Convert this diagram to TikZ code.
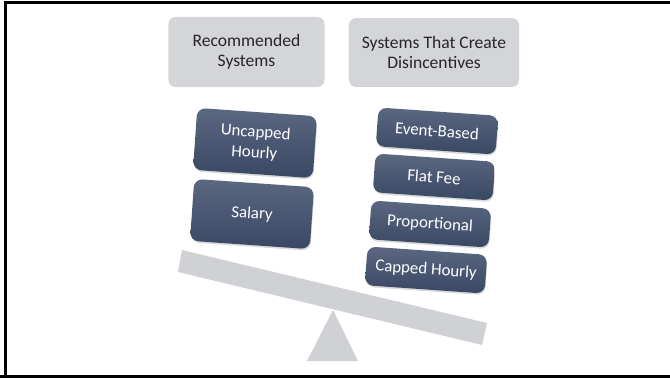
\documentclass[tikz,border=0pt]{standalone}
\usepackage{fontspec}
\setmainfont{Carlito}
\usetikzlibrary{shadows}
\definecolor{headgray}{RGB}{212,213,217}
\definecolor{slatetop}{RGB}{92,104,130}
\definecolor{slatebot}{RGB}{56,71,99}
\definecolor{beamgray}{RGB}{208,209,213}
\begin{document}
\begin{tikzpicture}[x=0.025cm,y=-0.025cm,
    header/.style={fill=headgray, rounded corners=5pt, align=center,
        font=\fontsize{12.5}{14}\selectfont, text=black!85},
    system/.style={top color=slatetop, bottom color=slatebot, rounded corners=6pt,
        align=center, text=white, minimum width=3cm, rotate=-4,
        font=\fontsize{12}{14.5}\selectfont,
        drop shadow={opacity=0.3, shadow xshift=0.4pt, shadow yshift=-1.2pt}}]
    \useasboundingbox (0,0) rectangle (670,378);
    % frame
    \draw[line width=2.1pt] (5.5,378) -- (5.5,2.5) -- (670,2.5);
    \draw[line width=2.1pt] (0,376.5) -- (670,376.5);
    % headers
    \node[header, minimum width=3.9cm, minimum height=1.75cm] (rec) at (246.5,52) {Recommended\\Systems};
    \node[header, minimum width=4.25cm, minimum height=1.72cm] (dis) at (434,52.5) {Systems That Create\\Disincentives};
    % seesaw
    \fill[beamgray] (333,310) -- (358,361) -- (307,361) -- cycle;
    \fill[beamgray] (182,250) -- (487,323) -- (482,345) -- (178,272) -- cycle;
    % left pan
    \node[system, minimum height=1.55cm] (uncapped) at (255,143) {Uncapped\\Hourly};
    \node[system, minimum height=1.55cm] (salary) at (252,214) {Salary};
    % right pan
    \node[system, minimum height=0.97cm] (event) at (437,131) {Event-Based};
    \node[system, minimum height=0.97cm] (flat) at (434,177) {Flat Fee};
    \node[system, minimum height=0.97cm] (prop) at (430,224) {Proportional};
    \node[system, minimum height=0.97cm] (capped) at (426,270) {Capped Hourly};
\end{tikzpicture}
\end{document}
